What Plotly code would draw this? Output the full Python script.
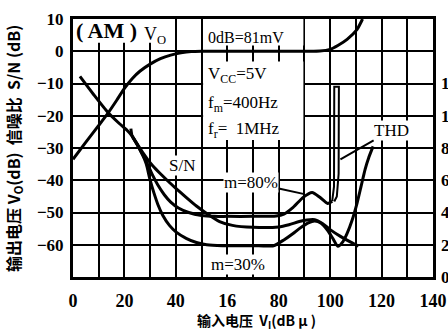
import plotly.graph_objects as go

# ---------------- data ----------------
# x axis: input voltage V_I (dBμ)
x_tickvals = [0, 10, 20, 30, 40, 50, 60, 70, 80, 90, 100, 110, 120, 130, 140]
x_ticktext = ["0", "", "20", "", "40", "", "16", "", "80", "", "100", "", "120", "", "140"]
# left axis: V_O (dB) / S/N (dB)
y_tickvals = [-70, -60, -50, -40, -30, -20, -10, 0, 10]
y_ticktext = ["", "−60", "−50", "−40", "−30", "−20", "−10", "0", "10"]
# right axis: THD (%)
thd_tickvals = [0, 2, 4, 6, 8, 10, 12]
thd_ticktext = ["0", "2", "4", "6", "8", "10", "12"]

# output voltage V_O (dB)
vo_x = [0, 5, 10, 13.6, 17, 20, 23, 26, 30, 34, 38, 42, 46, 50, 60, 70, 80, 90, 96, 100, 103, 106.6, 110.5, 112, 112.6]
vo_y = [-33.5, -28.2, -23, -19.2, -15.2, -11.5, -8.5, -6.2, -4, -2.3, -1.2, -0.5, -0.1, 0, 0, 0, 0, 0, 0.05, 0.6, 1.8, 3.7, 6.8, 9.0, 10]

# S/N (dB)
sn_x = [2.7, 8, 13.6, 18, 21, 23, 25, 27, 29, 31, 34, 37, 40, 44, 48, 52, 57, 62, 70, 80, 84, 88, 91, 94, 97, 100, 104, 108, 111]
sn_y = [-7.8, -13.4, -19, -22.4, -24.5, -26.3, -28.8, -31.3, -33.5, -35.5, -38, -40.3, -42.5, -45.3, -48, -50.3, -52.8, -54, -54.6, -54.5, -53.8, -52.8, -52.3, -52.2, -53.4, -55.3, -57.4, -59.2, -60.4]

# THD (%) for m = 30 %
m30_x = [23, 25, 27, 28.5, 30, 31.5, 33, 35, 37.5, 40, 44, 48, 52, 58, 70, 78, 82, 85.6, 88, 91.5, 94, 96.5, 99, 101, 103, 105, 106.6, 108.5, 110.5, 112, 113.6, 115, 116.7]
m30_thd = [8.74, 8.2, 7.6, 7.0, 6.0, 5.2, 4.5, 3.8, 3.2, 2.8, 2.4, 2.14, 2.0, 1.94, 1.94, 1.94, 2.3, 2.7, 3.0, 3.36, 3.48, 3.34, 2.9, 2.4, 1.9, 2.2, 2.7, 3.5, 4.6, 5.6, 6.68, 7.4, 8.1]

# THD (%) for m = 80 %
m80_x = [22.5, 23, 25, 27, 29, 31, 33, 35.5, 38, 41, 45, 50, 55, 60, 70, 79, 82, 85.6, 89.5, 93, 96, 99, 100.8]
m80_thd = [9.2, 8.74, 8.2, 7.6, 7.0, 6.3, 5.7, 5.1, 4.64, 4.28, 4.0, 3.82, 3.76, 3.76, 3.76, 3.78, 3.9, 4.32, 4.94, 5.24, 4.94, 4.56, 4.7]
m80_spike_x = [100.8, 101.5, 101.6, 103.4, 103.3, 102.6, 101.6]
m80_spike_thd = [4.7, 5.6, 11.8, 11.8, 6.4, 5.0, 4.68]

# ---------------- figure ----------------
SERIF = "Liberation Serif"
CJK = "Noto Sans CJK SC"
LW = 3

fig = go.Figure()
fig.add_trace(go.Scatter(x=vo_x, y=vo_y, mode="lines", line=dict(color="black", width=LW, shape="spline", smoothing=0.6)))
fig.add_trace(go.Scatter(x=sn_x, y=sn_y, mode="lines", line=dict(color="black", width=LW, shape="spline", smoothing=0.6)))
fig.add_trace(go.Scatter(x=m30_x, y=m30_thd, yaxis="y2", mode="lines", line=dict(color="black", width=LW, shape="spline", smoothing=0.6)))
fig.add_trace(go.Scatter(x=m80_x, y=m80_thd, yaxis="y2", mode="lines", line=dict(color="black", width=LW, shape="spline", smoothing=0.6)))
fig.add_trace(go.Scatter(x=m80_spike_x, y=m80_spike_thd, yaxis="y2", mode="lines", line=dict(color="black", width=2)))

mask = dict(type="rect", xref="x", yref="y", fillcolor="white", line=dict(width=0), layer="between")
shapes = [
    dict(mask, x0=0, x1=36.5, y0=2.6, y1=10),
    dict(mask, x0=50.6, x1=89.6, y0=1.8, y1=10),
    dict(mask, x0=50.6, x1=89.6, y0=-27.5, y1=-3.2),
]

def txt(x, y, s, size=16, anchor="left", bg="white", **kw):
    d = dict(x=x, y=y, xref="x", yref="y", text=s, showarrow=False, xanchor=anchor, yanchor="middle",
             font=dict(family=SERIF, size=size, color="black"), bgcolor=bg, borderpad=0)
    d.update(kw)
    return d

annotations = [
    txt(0.9, 6.4, "<b>( AM )</b>", size=22, bg=None),
    txt(27.4, 5.0, "V<sub>O</sub>", size=18, bg=None),
    txt(52.2, 4.3, "0dB=81mV", size=16, bg=None),
    txt(52.2, -7.5, "V<sub>CC</sub>=5V", size=17, bg=None),
    txt(52.2, -16.5, "f<sub>m</sub>=400Hz", size=17, bg=None),
    txt(52.2, -24.5, "f<sub>r</sub>=  1MHz", size=17, bg=None),
    txt(42.4, -35.4, "S/N", size=17, anchor="center"),
    txt(69.3, -40.7, "m=80%", size=17, anchor="center", showarrow=True, ax=69.3, ay=-40.7,
        axref="x", ayref="y") | dict(x=90, y=-44.3, arrowhead=0, arrowwidth=2, arrowcolor="black", standoff=0),
    txt(64.2, -66.1, "m=30%", size=17, anchor="center"),
    txt(123.7, -24.5, "THD", size=17, anchor="center", showarrow=True, ax=123.7, ay=-24.5,
        axref="x", ayref="y") | dict(x=104, y=-33.5, arrowhead=0, arrowwidth=2, arrowcolor="black", standoff=0),
    dict(x=-0.167, y=0.5, xref="paper", yref="paper", showarrow=False, textangle=-90,
         text="<b>输出电压 V<sub>O</sub>(dB)  信噪比  S/N (dB)</b>",
         font=dict(family=CJK, size=16, color="black"), xanchor="center", yanchor="middle"),
    dict(x=0.511, y=-0.17, xref="paper", yref="paper", showarrow=False,
         text="<b>输入电压  V<sub>I</sub>(dB μ )</b>",
         font=dict(family=CJK, size=14, color="black"), xanchor="center", yanchor="middle"),
]

fig.update_layout(
    width=448, height=332, margin=dict(l=73, r=15, t=19, b=55, autoexpand=False),
    paper_bgcolor="white", plot_bgcolor="white", showlegend=False,
    shapes=shapes, annotations=annotations,
    xaxis=dict(range=[0, 140], tickvals=x_tickvals, ticktext=x_ticktext, showgrid=True, gridcolor="black",
               gridwidth=2, zeroline=False, showline=True, mirror=True, linecolor="black", linewidth=3,
               ticks="", ticklabelstandoff=5, automargin=False,
               tickfont=dict(family=SERIF, size=18, color="black", weight="bold")),
    yaxis=dict(range=[-70, 10], tickvals=y_tickvals, ticktext=y_ticktext, showgrid=True, gridcolor="black",
               gridwidth=2, zeroline=False, showline=True, mirror=True, linecolor="black", linewidth=3,
               ticks="", ticklabelstandoff=3, automargin=False,
               tickfont=dict(family=SERIF, size=17, color="black", weight="bold")),
    yaxis2=dict(range=[0, 16], overlaying="y", side="right", tickvals=thd_tickvals, ticktext=thd_ticktext,
                showgrid=False, zeroline=False, showline=False, ticks="", ticklabelstandoff=7, automargin=False,
                tickfont=dict(family=SERIF, size=17, color="black", weight="bold")),
)

fig.write_html("out.html")
